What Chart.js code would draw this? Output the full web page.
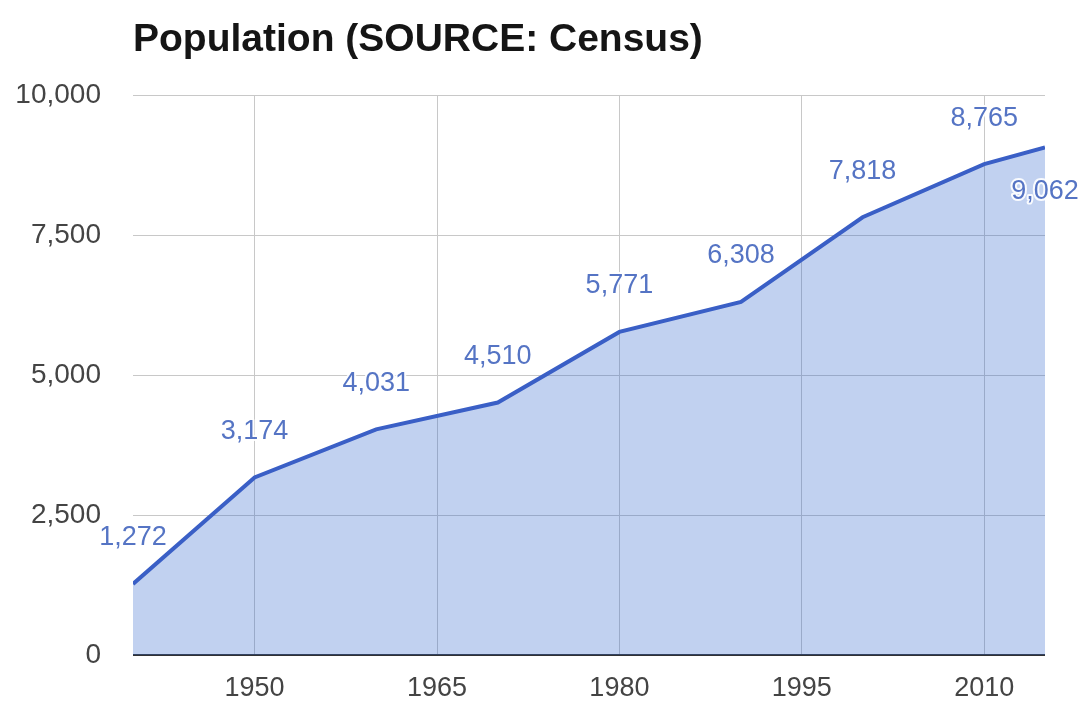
<!DOCTYPE html>
<html>
<head>
<meta charset="utf-8">
<script src="https://cdn.jsdelivr.net/npm/chart.js@4.4.1/dist/chart.umd.min.js"></script>
<style>
  body { margin: 0; background: #fff; }
  #wrap { width: 1088px; height: 704px; }
</style>
</head>
<body>
<div id="wrap"><canvas id="popChart" width="1088" height="704"></canvas></div>
<script>
// Data
const years = [1940, 1950, 1960, 1970, 1980, 1990, 2000, 2010, 2015];
const population = [1272, 3174, 4031, 4510, 5771, 6308, 7818, 8765, 9062];
const xTicks = [1950, 1965, 1980, 1995, 2010];
const yTicks = [0, 2500, 5000, 7500, 10000];
const chartTitle = 'Population (SOURCE: Census)';

const FONT = "'Liberation Sans', Arial, sans-serif";
const lineColor = '#3a5fc6';
const labelColor = '#5574c4';

// Title drawn at chart area left edge
const titlePlugin = {
    id: 'leftTitle',
    afterDraw(chart) {
        const ctx = chart.ctx;
        ctx.save();
        ctx.font = 'bold 39px ' + FONT;
        ctx.fillStyle = '#151515';
        ctx.textAlign = 'left';
        ctx.textBaseline = 'alphabetic';
        ctx.fillText(chartTitle, chart.chartArea.left, 51);
        ctx.restore();
    }
};

// Value labels above each point (last one below)
const valueLabels = {
    id: 'valueLabels',
    afterDatasetsDraw(chart) {
        const ctx = chart.ctx;
        const meta = chart.getDatasetMeta(0);
        ctx.save();
        ctx.font = '27px ' + FONT;
        ctx.textAlign = 'center';
        ctx.textBaseline = 'middle';
        ctx.lineJoin = 'round';
        meta.data.forEach((pt, i) => {
            const text = population[i].toLocaleString('en-US');
            const last = i === meta.data.length - 1;
            const y = last ? pt.y + 44 : pt.y - 46;
            ctx.strokeStyle = 'rgba(255,255,255,0.9)';
            ctx.lineWidth = 4;
            ctx.strokeText(text, pt.x, y);
            ctx.fillStyle = labelColor;
            ctx.fillText(text, pt.x, y);
        });
        ctx.restore();
    }
};

const ctx = document.getElementById('popChart').getContext('2d');
new Chart(ctx, {
    type: 'line',
    data: {
        datasets: [{
            data: years.map((y, i) => ({ x: y, y: population[i] })),
            borderColor: lineColor,
            borderWidth: 4,
            backgroundColor: 'rgba(51, 102, 204, 0.3)',
            fill: 'origin',
            tension: 0,
            pointRadius: 0
        }]
    },
    options: {
        responsive: false,
        animation: false,
        layout: { padding: { top: 95, right: 43, left: 0, bottom: 0 } },
        plugins: {
            legend: { display: false },
            tooltip: { enabled: false }
        },
        scales: {
            x: {
                type: 'linear',
                min: 1940,
                max: 2015,
                afterBuildTicks: axis => { axis.ticks = xTicks.map(v => ({ value: v })); },
                afterFit: axis => { axis.height = 48; },
                grid: { color: '#c8c8c8', lineWidth: 1, drawTicks: false },
                border: { display: false },
                ticks: {
                    padding: 17,
                    color: '#444',
                    font: { family: FONT, size: 27 },
                    callback: v => String(v)
                }
            },
            y: {
                min: 0,
                max: 10000,
                afterBuildTicks: axis => { axis.ticks = yTicks.map(v => ({ value: v })); },
                afterFit: axis => { axis.width = 133; },
                grid: {
                    drawTicks: false,
                    color: c => c.tick && c.tick.value === 0 ? '#333' : '#c8c8c8',
                    lineWidth: c => c.tick && c.tick.value === 0 ? 2 : 1
                },
                border: { display: false },
                ticks: {
                    padding: 32,
                    color: '#444',
                    font: { family: FONT, size: 28 },
                    callback: v => v.toLocaleString('en-US')
                }
            }
        }
    },
    plugins: [titlePlugin, valueLabels]
});
</script>
</body>
</html>
